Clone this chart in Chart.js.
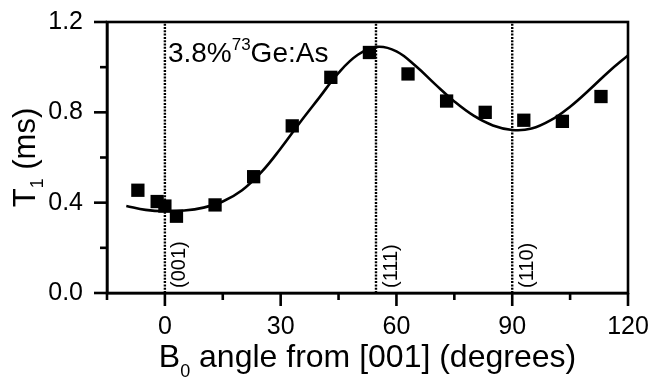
<!DOCTYPE html>
<html>
<head>
<meta charset="utf-8">
<script src="https://cdn.jsdelivr.net/npm/chart.js@4/dist/chart.umd.min.js"></script>
<style>
html,body{margin:0;padding:0;background:#fff;}
#wrap{width:652px;height:377px;position:relative;}
</style>
</head>
<body>
<div id="wrap"><canvas id="c"></canvas></div>
<script>
// ---- data ----
const angles = [-7, -2, 0, 3, 13, 23, 33, 43, 53, 63, 73, 83, 93, 103, 113];
const t1Values = [0.455, 0.405, 0.385, 0.34, 0.39, 0.515, 0.74, 0.955, 1.065, 0.97, 0.85, 0.80, 0.765, 0.76, 0.87];
const fitAngles = [-10, -5, 0, 5, 10, 15, 20, 25, 30, 35, 40, 45, 50, 55, 60, 65, 70, 75, 80, 85, 90, 95, 100, 105, 110, 115, 120];
const fitValues = [0.385, 0.368, 0.362, 0.365, 0.378, 0.405, 0.455, 0.535, 0.64, 0.755, 0.865, 0.975, 1.055, 1.09, 1.07, 1.005, 0.925, 0.848, 0.785, 0.742, 0.722, 0.728, 0.765, 0.825, 0.9, 0.98, 1.052];
const refAngles = [0, 54.7, 90];
const refLabels = ['(001)', '(111)', '(110)'];
const xTickLabels = [0, 30, 60, 90, 120];
const yTickLabels = ['0.0', '0.4', '0.8', '1.2'];

const FONT = '"Liberation Sans", Arial, sans-serif';

const refDatasets = refAngles.map(a => ({
  type: 'line',
  data: [{x: a, y: 0}, {x: a, y: 1.2}],
  borderColor: '#000',
  borderWidth: 2.4,
  borderDash: [2, 1.3],
  pointRadius: 0,
  order: 3
}));

function drawRich(ctx, parts, x, y) {
  let cx = x;
  for (const p of parts) {
    ctx.font = p.size + 'px ' + FONT;
    ctx.fillText(p.t, cx, y + (p.dy || 0));
    cx += ctx.measureText(p.t).width;
  }
}
function richWidth(ctx, parts) {
  let w = 0;
  for (const p of parts) { ctx.font = p.size + 'px ' + FONT; w += ctx.measureText(p.t).width; }
  return w;
}
function zeroPad(s) { s.paddingTop = 0; s.paddingBottom = 0; s.paddingLeft = 0; s.paddingRight = 0; }

const decor = {
  id: 'decor',
  afterDraw(chart) {
    const ctx = chart.ctx, a = chart.chartArea;
    const xs = chart.scales.x, ys = chart.scales.y;
    ctx.save();
    ctx.strokeStyle = '#000';
    ctx.fillStyle = '#000';
    // frame
    ctx.lineWidth = 2.6;
    ctx.strokeRect(a.left, a.top, a.right - a.left, a.bottom - a.top);
    // ticks
    xs.ticks.forEach(t => {
      const px = xs.getPixelForValue(t.value);
      const major = xTickLabels.includes(t.value);
      ctx.beginPath(); ctx.moveTo(px, a.bottom); ctx.lineTo(px, a.bottom + (major ? 13 : 7)); ctx.stroke();
    });
    ys.ticks.forEach(t => {
      const py = ys.getPixelForValue(t.value);
      const major = yTickLabels.includes(t.value.toFixed(1));
      ctx.beginPath(); ctx.moveTo(a.left, py); ctx.lineTo(a.left - (major ? 13 : 7), py); ctx.stroke();
    });
    // x title
    ctx.textBaseline = 'alphabetic';
    ctx.textAlign = 'left';
    const xt = [{t: 'B', size: 32}, {t: '0', size: 18, dy: 10}, {t: ' angle from [001] (degrees)', size: 32}];
    const xw = richWidth(ctx, xt);
    drawRich(ctx, xt, (a.left + a.right) / 2 - xw / 2, 367);
    // y title
    const yt = [{t: 'T', size: 31}, {t: '1', size: 18, dy: 8}, {t: ' (ms)', size: 31}];
    const yw = richWidth(ctx, yt);
    ctx.save();
    ctx.translate(35, (a.top + a.bottom) / 2 + yw / 2);
    ctx.rotate(-Math.PI / 2);
    drawRich(ctx, yt, 0, 0);
    ctx.restore();
    // annotation
    const x0 = xs.getPixelForValue(refAngles[0]);
    drawRich(ctx, [{t: '3.8%', size: 28}, {t: '73', size: 17, dy: -12}, {t: 'Ge:As', size: 28}], x0 + 3, 62);
    // reference labels
    refAngles.forEach((ang, i) => {
      const px = xs.getPixelForValue(ang);
      ctx.save();
      ctx.translate(px + 5, a.bottom - 5);
      ctx.rotate(-Math.PI / 2);
      ctx.textBaseline = 'top';
      ctx.font = '20px ' + FONT;
      ctx.fillText(refLabels[i], 0, 0);
      ctx.restore();
    });
    ctx.restore();
  }
};

new Chart(document.getElementById('c'), {
  type: 'scatter',
  data: {
    datasets: [
      {
        type: 'line',
        data: fitAngles.map((x, i) => ({x, y: fitValues[i]})),
        borderColor: '#000',
        borderWidth: 2.6,
        pointRadius: 0,
        tension: 0.4,
        order: 2
      },
      {
        type: 'scatter',
        data: angles.map((x, i) => ({x, y: t1Values[i]})),
        pointStyle: 'rect',
        pointRadius: 9.4,
        backgroundColor: '#000',
        borderWidth: 0,
        order: 1
      },
      ...refDatasets
    ]
  },
  options: {
    responsive: true,
    maintainAspectRatio: false,
    animation: false,
    events: [],
    layout: {autoPadding: false, padding: {top: 22, right: 24, left: 0, bottom: 0}},
    plugins: {legend: {display: false}, tooltip: {enabled: false}},
    scales: {
      x: {
        type: 'linear', min: -15, max: 120,
        afterFit: s => { s.height = 84; zeroPad(s); },
        ticks: {
          stepSize: 15, padding: 19, color: '#000', maxRotation: 0, autoSkip: false,
          font: {family: FONT, size: 25},
          callback: v => xTickLabels.includes(v) ? String(v) : ''
        },
        grid: {display: false, drawTicks: false},
        border: {display: true, color: '#000', width: 2.6}
      },
      y: {
        type: 'linear', min: 0, max: 1.2,
        afterFit: s => { s.width = 107; zeroPad(s); },
        ticks: {
          stepSize: 0.2, padding: 24, color: '#000', autoSkip: false,
          font: {family: FONT, size: 25},
          callback: v => yTickLabels.includes(Number(v).toFixed(1)) ? Number(v).toFixed(1) : ''
        },
        grid: {display: false, drawTicks: false},
        border: {display: true, color: '#000', width: 2.6}
      }
    }
  },
  plugins: [decor]
});
</script>
</body>
</html>
